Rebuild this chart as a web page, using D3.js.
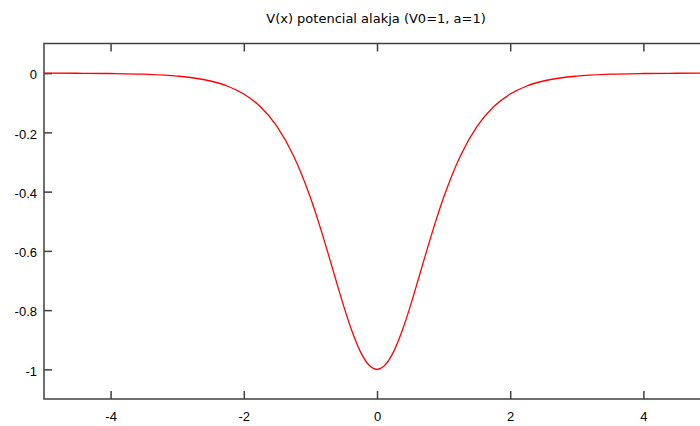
<!DOCTYPE html>
<html>
<head>
<meta charset="utf-8">
<script src="https://cdn.jsdelivr.net/npm/d3@7"></script>
<style>
  body { margin: 0; background: #fff; }
  svg { display: block; font-family: "DejaVu Sans", sans-serif; }
  .title { font-size: 13px; fill: #000; }
  .tick text { font-size: 13px; fill: #000; }
</style>
</head>
<body>
<svg width="700" height="426"></svg>
<script>
// values
const xValues = [-5, -4.5, -4, -3.5, -3, -2.5, -2.25, -2, -1.75, -1.5, -1.25, -1, -0.875, -0.75, -0.625, -0.5, -0.375, -0.25, -0.125,
  0, 0.125, 0.25, 0.375, 0.5, 0.625, 0.75, 0.875, 1, 1.25, 1.5, 1.75, 2, 2.25, 2.5, 3, 3.5, 4, 4.5, 5]
const vValues = [-0.0002, -0.0005, -0.0013, -0.0036, -0.0099, -0.0266, -0.0435, -0.0707, -0.1138, -0.1807, -0.2804, -0.42, -0.5046, -0.5966, -0.6923, -0.7864, -0.8716, -0.940, -0.9845,
  -1, -0.9845, -0.940, -0.8716, -0.7864, -0.6923, -0.5966, -0.5046, -0.42, -0.2804, -0.1807, -0.1138, -0.0707, -0.0435, -0.0266, -0.0099, -0.0036, -0.0013, -0.0005, -0.0002]
const xTicks = [-4, -2, 0, 2, 4]
const yTicks = [0, -0.2, -0.4, -0.6, -0.8, -1]
const title = "V(x) potencial alakja (V0=1, a=1)"

const margin = { left: 44, right: -10, top: 43.5, bottom: 27 }
const width = 700, height = 426

const x = d3.scaleLinear().domain([-5, 5]).range([margin.left, width - margin.right])
const y = d3.scaleLinear().domain([-1.1, 0.1]).range([height - margin.bottom, margin.top])

const svg = d3.select('svg')
const axisColor = '#404040'

// Frame
svg.append('rect')
  .attr('x', x(-5))
  .attr('y', y(0.1))
  .attr('width', x(5) - x(-5))
  .attr('height', y(-1.1) - y(0.1))
  .attr('fill', 'none')
  .attr('stroke', axisColor)
  .attr('stroke-width', 1.5)

// Axes, ticks pointing inward
const fmt = d => d === 0 ? '0' : String(d)

const bottomAxis = svg.append('g')
  .attr('transform', `translate(0,${y(-1.1)})`)
  .call(d3.axisBottom(x).tickValues(xTicks).tickSize(-8).tickPadding(13).tickFormat(fmt))
const topAxis = svg.append('g')
  .attr('transform', `translate(0,${y(0.1)})`)
  .call(d3.axisTop(x).tickValues(xTicks).tickSize(-8).tickFormat(''))
const leftAxis = svg.append('g')
  .attr('transform', `translate(${x(-5)},0)`)
  .call(d3.axisLeft(y).tickValues(yTicks).tickSize(-8).tickPadding(7).tickFormat(fmt))

leftAxis.selectAll('.tick text').attr('dy', '0.45em')

;[bottomAxis, topAxis, leftAxis].forEach(g => {
  g.select('.domain').remove()
  g.selectAll('.tick line').attr('stroke', axisColor).attr('stroke-width', 1.5)
})

// Curve
const line = d3.line()
  .x((d, i) => x(xValues[i]))
  .y(d => y(d))
  .curve(d3.curveMonotoneX)

svg.append('path')
  .datum(vValues)
  .attr('d', line)
  .attr('fill', 'none')
  .attr('stroke', '#ff0000')
  .attr('stroke-width', 1.3)

// Title
svg.append('text')
  .attr('class', 'title')
  .attr('x', 376)
  .attr('y', 23)
  .attr('text-anchor', 'middle')
  .text(title)
</script>
</body>
</html>
